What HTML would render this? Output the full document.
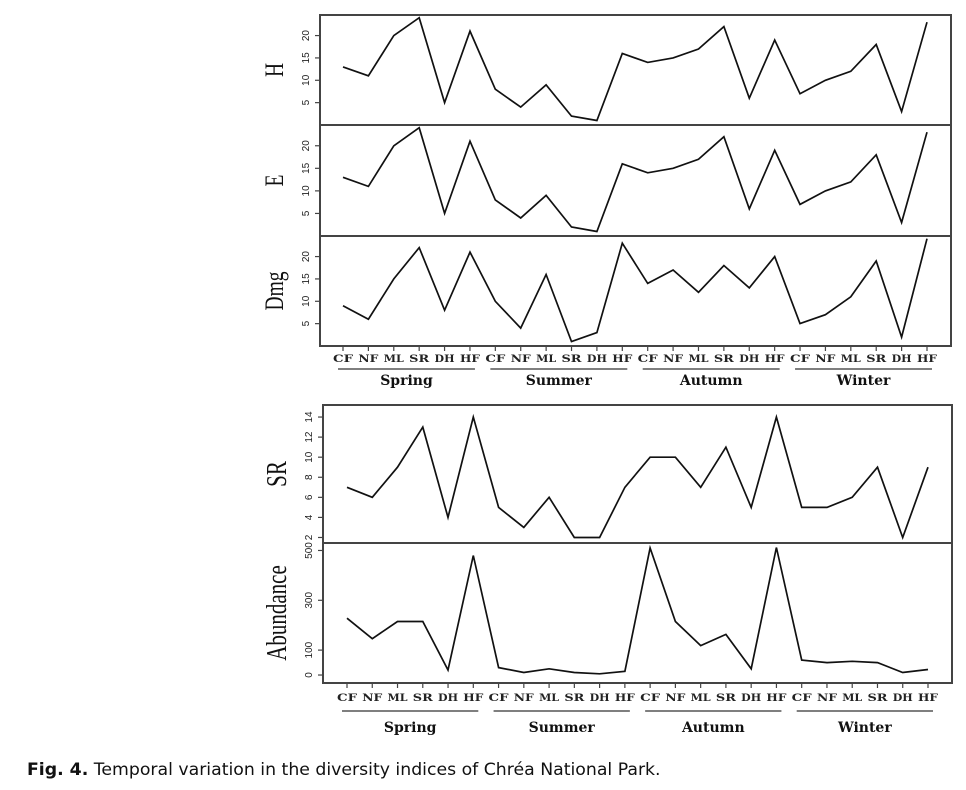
<!DOCTYPE html>
<html><head><meta charset="utf-8"><style>
body{margin:0;background:#fff;width:966px;height:790px;overflow:hidden}
svg{display:block}
</style></head><body>
<svg id="chart" width="966" height="790" viewBox="0 0 966 790" xmlns="http://www.w3.org/2000/svg" font-family="Liberation Serif, serif">
<g id="g"></g>
<text x="27" y="775" font-family="DejaVu Sans, sans-serif" font-size="17.3" fill="#111"><tspan font-weight="bold">Fig. 4.</tspan> Temporal variation in the diversity indices of Chréa National Park.</text>
</svg>
<script>
const sites = ["CF","NF","ML","SR","DH","HF"];
const seasons = ["Spring","Summer","Autumn","Winter"];
const hValues = [13,11,20,24,5,21, 8,4,9,2,1,16, 14,15,17,22,6,19, 7,10,12,18,3,23];
const eValues = [13,11,20,24,5,21, 8,4,9,2,1,16, 14,15,17,22,6,19, 7,10,12,18,3,23];
const dmgValues = [9,6,15,22,8,21, 10,4,16,1,3,23, 14,17,12,18,13,20, 5,7,11,19,2,24];
const srValues = [7,6,9,13,4,14, 5,3,6,2,2,7, 10,10,7,11,5,14, 5,5,6,9,2,9];
const abundanceValues = [228,146,215,215,20,480, 30,10,25,10,5,15, 510,215,118,163,25,512, 60,50,55,50,10,22];
const topTicks = [5,10,15,20];
const srTicks = [2,4,6,8,10,12,14];
const abTicks = [0,100,300,500];

const NS="http://www.w3.org/2000/svg";
const root=document.getElementById('g');
function mk(tag,attrs,parent){const e=document.createElementNS(NS,tag);for(const k in attrs)e.setAttribute(k,attrs[k]);(parent||root).appendChild(e);return e;}

function panel(name,title,values,ticks,vmin,vmax,L,R,T,B,x0,x1,titleSize){
  const g=mk('g',{});
  
  
  const xs=i=>x0+(x1-x0)*i/(values.length-1);
  const ys=v=>B-(v-vmin)/(vmax-vmin)*(B-T);
  const fr=mk('rect',{x:L,y:T,width:R-L,height:B-T,fill:'none',stroke:'#444','stroke-width':2},g);
  
  
  ticks.forEach(t=>{
    const y=ys(t);
    const tk=mk('line',{x1:L-5,x2:L,y1:y,y2:y,stroke:'#444','stroke-width':1.2},g);
    
    
    const tx=mk('text',{x:0,y:0,'font-size':10,'text-anchor':'middle',fill:'#222',transform:`translate(${L-11},${y}) rotate(-90)`,'font-family':'Liberation Sans, sans-serif'},g);
    tx.textContent=t;
    
    
  });
  const yt=mk('text',{x:0,y:0,'font-size':titleSize,'text-anchor':'middle',fill:'#111',transform:`translate(${L-37},${(T+B)/2}) rotate(-90) scale(0.75,1)`},g);
  yt.textContent=title;
  
  
  const pts=values.map((v,i)=>xs(i).toFixed(1)+','+ys(v).toFixed(1)).join(' ');
  const pl=mk('polyline',{points:pts,fill:'none',stroke:'#111','stroke-width':1.7,'stroke-linejoin':'miter'},g);
  
  
  return xs;
}

function xAxis(prefix,xs,B,labY,lineY,seasonY,n){
  for(let i=0;i<n;i++){
    const x=xs(i);
    const tk=mk('line',{x1:x,x2:x,y1:B,y2:B+5,stroke:'#444','stroke-width':1.2});
    
    
    const t=mk('text',{x:x,y:labY,'font-size':10,'font-weight':'bold','text-anchor':'middle',fill:'#222','font-family':'DejaVu Serif, serif',textLength:20,lengthAdjust:'spacingAndGlyphs'});
    t.textContent=sites[i%6];
    
    
  }
  seasons.forEach((s,k)=>{
    const a=xs(k*6)-5,b=xs(k*6+5)+5;
    const ln=mk('line',{x1:a,x2:b,y1:lineY,y2:lineY,stroke:'#555','stroke-width':1.5});
    
    
    const t=mk('text',{x:(a+b)/2,y:seasonY,'font-size':14,'font-weight':'bold','text-anchor':'middle',fill:'#111','font-family':'DejaVu Serif, serif'});
    t.textContent=s;
    
    
  });
}

const topMax=24.6;
const xsTop=panel('h','H',hValues,topTicks,0,topMax,320,951,15,125,343,927,26);
panel('e','E',eValues,topTicks,0,topMax,320,951,125,236,343,927,26);
panel('dmg','Dmg',dmgValues,topTicks,0,topMax,320,951,236,346,343,927,26);
xAxis('top',xsTop,346,362,369,385,24);

panel('sr','SR',srValues,srTicks,1.45,15.2,323,952,405,543,347,928,28);
const xsBot=panel('abundance','Abundance',abundanceValues,abTicks,-32,530,323,952,543,683,347,928,28);
xAxis('bottom',xsBot,683,701,711,732,24);
</script>
</body></html>
